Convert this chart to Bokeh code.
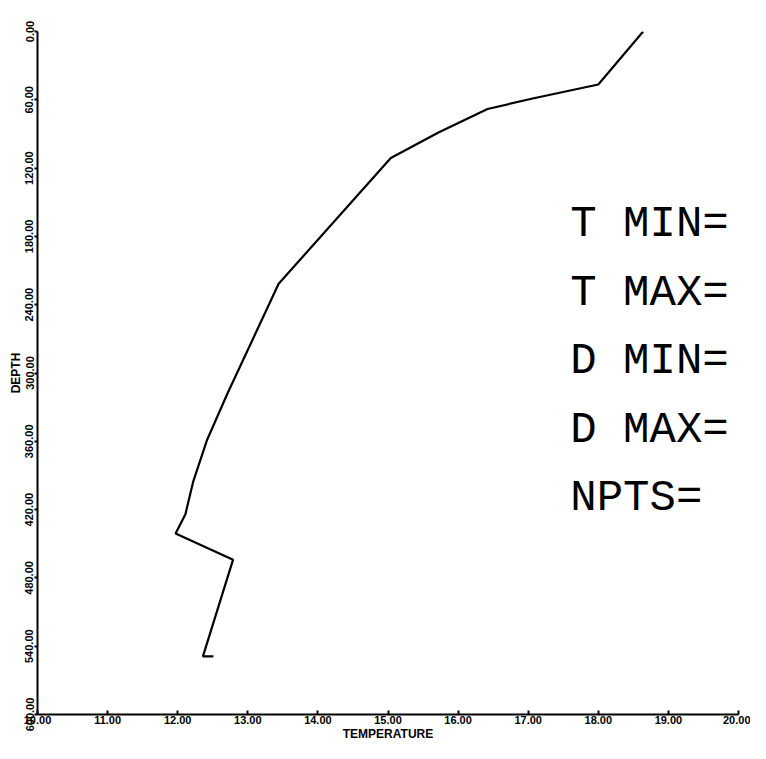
from bokeh.plotting import figure
from bokeh.models import Range1d, Label, FixedTicker, PrintfTickFormatter
from bokeh.embed import file_html
from bokeh.resources import INLINE

# Temperature profile
temperature = [18.64, 18.00, 17.08, 16.42, 15.72, 15.04, 13.44, 12.71, 12.42,
               12.22, 12.11, 11.97, 12.79, 12.36, 12.51]
depth = [0, 46.6, 58.6, 68.1, 88.8, 111.2, 221.6, 318, 358.6,
         395.7, 424, 441, 464, 548.9, 548.9]

x_ticks = [10, 11, 12, 13, 14, 15, 16, 17, 18, 19, 20]
y_ticks = [0, 60, 120, 180, 240, 300, 360, 420, 480, 540, 600]

info_texts = ["T MIN=", "T MAX=", "D MIN=", "D MAX=", "NPTS="]

p = figure(width=750, height=743, output_backend="svg", toolbar_location=None,
           x_range=Range1d(10, 20), y_range=Range1d(600, 0),
           min_border_left=37, min_border_right=12, min_border_top=31,
           min_border_bottom=0)
p.outline_line_color = None
p.grid.visible = False
p.background_fill_color = "white"
p.border_fill_color = "white"

p.line(temperature, depth, line_color="black", line_width=2.2)

label_font = "Liberation Sans"
for ax in (p.xaxis[0], p.yaxis[0]):
    ax.axis_line_color = "black"
    ax.axis_line_width = 2
    ax.major_tick_line_color = "black"
    ax.major_tick_line_width = 2
    ax.minor_tick_line_color = None
    ax.major_label_text_font = label_font
    ax.major_label_text_font_style = "bold"
    ax.major_label_text_font_size = "11px"
    ax.major_label_text_color = "black"
    ax.axis_label_text_font = label_font
    ax.axis_label_text_font_style = "bold"
    ax.axis_label_text_font_size = "12px"
    ax.axis_label_text_color = "black"
    ax.major_label_standoff = 1
    ax.axis_label_standoff = 0
    ax.formatter = PrintfTickFormatter(format="%.2f")

p.xaxis[0].ticker = FixedTicker(ticks=x_ticks)
p.yaxis[0].ticker = FixedTicker(ticks=y_ticks)
p.xaxis[0].major_tick_in = 4
p.xaxis[0].major_tick_out = 0
p.yaxis[0].major_tick_in = 0
p.yaxis[0].major_tick_out = 3
p.yaxis[0].major_label_orientation = "vertical"
p.xaxis[0].axis_label = "TEMPERATURE"
p.yaxis[0].axis_label = "DEPTH"

for i, t in enumerate(info_texts):
    p.add_layout(Label(x=17.6, y=169 + 60.3 * i, text=t,
                       text_font="Liberation Mono", text_font_size="44px",
                       text_baseline="middle", text_align="left",
                       text_color="black"))

open("out.html", "w").write(file_html(p, INLINE))
